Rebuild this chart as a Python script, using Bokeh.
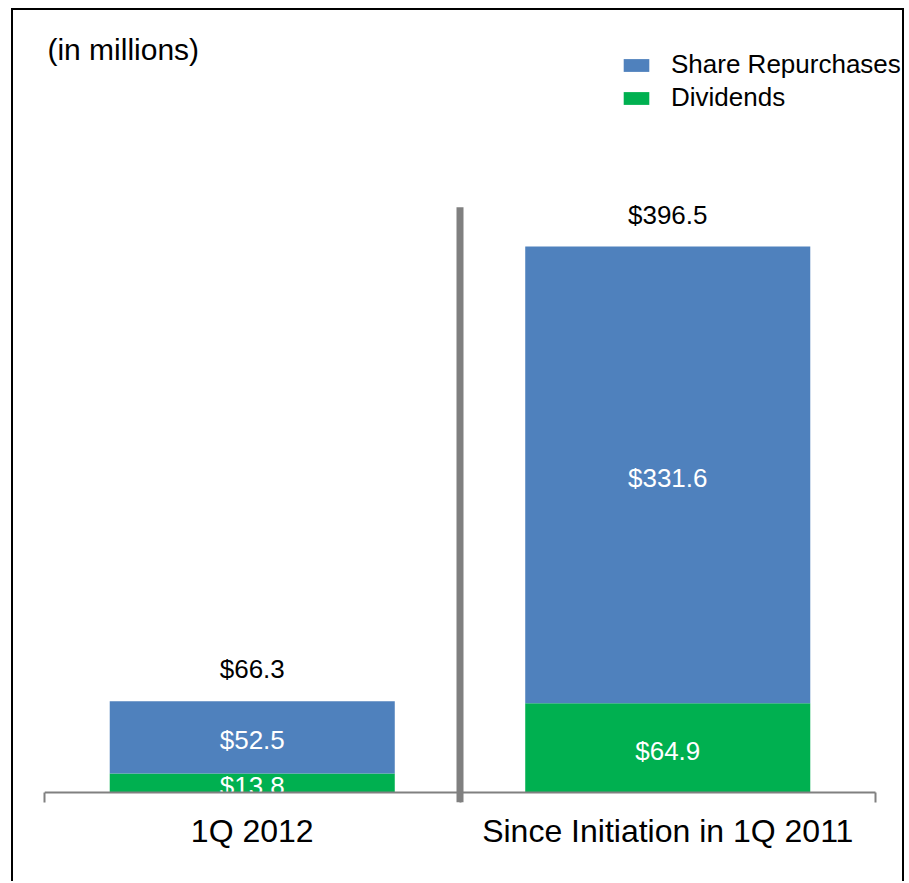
import numpy as np
from bokeh.plotting import figure
from bokeh.models import (Range1d, FixedTicker, Label, Legend, LegendItem,
                          ColumnDataSource)
from bokeh.core.properties import value
from bokeh.embed import file_html
from bokeh.resources import INLINE

# ---- data ----
categories = ["1Q 2012", "Since Initiation in 1Q 2011"]
dividends = [13.8, 64.9]
repurchases = [52.5, 331.6]
totals = [66.3, 396.5]
series_names = ["Share Repurchases", "Dividends"]
unit_note = "(in millions)"

BLUE = "#4F81BD"
GREEN = "#00B050"
GRAY = "#808080"
FONT = "Liberation Sans"

xs = np.arange(len(categories)) + 0.5
div = np.array(dividends)
rep = np.array(repurchases)

src = ColumnDataSource(dict(
    x=xs, dividends=div, repurchases=rep, total=totals,
    total_lbl=["$%.1f" % t for t in totals],
    div_mid=div / 2, div_lbl=["$%.1f" % v for v in div],
    rep_mid=div + rep / 2, rep_lbl=["$%.1f" % v for v in rep],
))

px_per_unit = 546 / 396.5          # vertical scale (px per $M)
px_per_cat = 415.5                 # horizontal px per category
n = len(categories)
y_start = -10 / px_per_unit
y_end = y_start + 792 / px_per_unit
x_end = n + 31 / px_per_cat

p = figure(width=893, height=873,
           x_range=Range1d(0, x_end), y_range=Range1d(y_start, y_end),
           output_backend="svg", toolbar_location=None, y_axis_location=None,
           min_border_left=31, min_border_right=0, min_border_top=0,
           min_border_bottom=81)
p.styles = {"margin-left": "11px", "margin-top": "8px",
            "border-top": "2px solid black",
            "border-left": "2px solid black", "border-right": "2px solid black"}
p.outline_line_color = None
p.xgrid.visible = False
p.ygrid.visible = False

rs = p.vbar_stack(["dividends", "repurchases"], x="x", width=0.686, source=src,
                  color=[GREEN, BLUE], line_color=None)

# in-bar labels
for ycol, tcol in (("div_mid", "div_lbl"), ("rep_mid", "rep_lbl")):
    p.text(x="x", y=ycol, text=tcol, source=src, text_color="white",
           text_align="center", text_baseline="middle", y_offset=3,
           text_font=value(FONT), text_font_size="26px")
# totals
p.text(x="x", y="total", text="total_lbl", source=src, text_color="black",
       text_align="center", text_baseline="alphabetic", y_offset=-32,
       text_font=value(FONT), text_font_size="26px")

# divider between categories
p.segment(x0=[n / 2], y0=[y_start], x1=[n / 2], y1=[425], line_color=GRAY,
          line_width=7, line_cap="butt")

# baseline of the category axis
p.segment(x0=[0], y0=[0], x1=[n], y1=[0], line_color=GRAY, line_width=2)

# x axis
ax = p.xaxis[0]
ax.ticker = FixedTicker(ticks=list(xs), minor_ticks=list(range(n + 1)))
ax.major_label_overrides = {float(x): c for x, c in zip(xs, categories)}
ax.axis_line_color = None
ax.major_tick_line_color = None
ax.major_tick_in = 0
ax.major_tick_out = 0
ax.minor_tick_in = 10
ax.minor_tick_out = 0
ax.minor_tick_line_color = GRAY
ax.minor_tick_line_width = 2
ax.major_label_standoff = 10
ax.major_label_text_font = FONT
ax.major_label_text_font_size = "32px"
ax.major_label_text_color = "black"

# unit note
p.add_layout(Label(x=0.007, y=(792 - 32) / px_per_unit, text=unit_note,
                   text_baseline="top", text_font=FONT, text_font_size="30px",
                   text_color="black"))

legend = Legend(items=[LegendItem(label=series_names[0], renderers=[rs[1]]),
                       LegendItem(label=series_names[1], renderers=[rs[0]])],
                location=(576, 689), glyph_width=32, glyph_height=16,
                label_standoff=19, spacing=2, padding=0, margin=0,
                border_line_color=None, background_fill_alpha=0,
                label_text_font=FONT, label_text_font_size="26px",
                label_text_color="black")
p.add_layout(legend, "center")

open("out.html", "w").write(file_html(p, INLINE))
